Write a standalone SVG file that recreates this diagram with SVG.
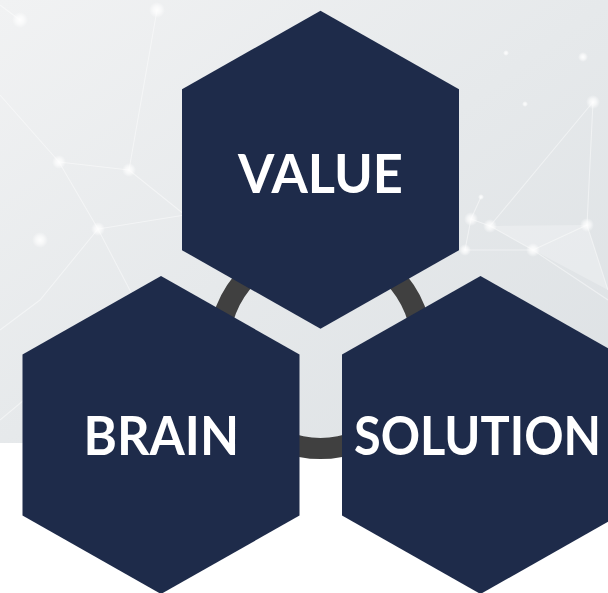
<svg xmlns="http://www.w3.org/2000/svg" width="608" height="593" viewBox="0 0 608 593">
  <defs>
    <linearGradient id="bg" x1="0" y1="0" x2="1" y2="1">
      <stop offset="0" stop-color="#f1f2f3"/>
      <stop offset="0.5" stop-color="#e6e9eb"/>
      <stop offset="1" stop-color="#dde1e4"/>
    </linearGradient>
    <radialGradient id="dot">
      <stop offset="0" stop-color="#ffffff" stop-opacity="0.95"/>
      <stop offset="0.5" stop-color="#ffffff" stop-opacity="0.6"/>
      <stop offset="1" stop-color="#ffffff" stop-opacity="0"/>
    </radialGradient>
    <style>
      .hex { fill: #1e2b4a; }
      .lbl { fill: #ffffff; font-family: Lato, "Liberation Sans", sans-serif; font-weight: 700; font-size: 53px; }
      .net { stroke: #ffffff; stroke-opacity: 0.45; stroke-width: 1.1; fill: none; }
      .ring { fill: none; stroke: #404040; stroke-width: 21; }
    </style>
  </defs>

  <rect x="0" y="0" width="608" height="593" fill="#ffffff"/>
  <rect x="0" y="0" width="608" height="443" fill="url(#bg)"/>

  <g id="network">
    <path class="net" d="M0 95 L59 162 L98 229 L135 300 M59 162 L129 170 L185 215 M98 229 L185 215 M98 229 L40 300 L0 330 M0 420 L60 370 M20 20 L0 5 M157 10 L129 170"/>
    <path class="net" d="M593 102 L587 225 L608 290 M593 102 L490 226 M471 219 L490 226 L533 250 L608 300 M533 250 L587 225 M465 250 L471 219 L481 197 M465 250 L533 250"/>
    <polygon points="490,226 587,225 608,290 533,250" fill="#ffffff" fill-opacity="0.25"/>
    <g fill="url(#dot)">
      <circle cx="20" cy="20" r="8"/>
      <circle cx="157" cy="10" r="8"/>
      <circle cx="59" cy="162" r="7"/>
      <circle cx="129" cy="170" r="7"/>
      <circle cx="98" cy="229" r="7"/>
      <circle cx="40" cy="240" r="8"/>
      <circle cx="593" cy="102" r="7"/>
      <circle cx="587" cy="225" r="7"/>
      <circle cx="533" cy="250" r="7"/>
      <circle cx="490" cy="226" r="7"/>
      <circle cx="471" cy="219" r="7"/>
      <circle cx="465" cy="250" r="6"/>
      <circle cx="506" cy="53" r="3"/>
      <circle cx="525" cy="104" r="3"/>
      <circle cx="481" cy="197" r="3"/>
      <circle cx="583" cy="57" r="5"/>
    </g>
  </g>

  <g id="connectors">
    <circle class="ring" cx="320.5" cy="347" r="101.5"/>
  </g>

  <g id="value">
    <polygon class="hex" points="320.5,10.7 459,89.2 459,250.2 320.5,328.7 182,250.2 182,89.2"/>
    <text class="lbl" x="238" y="192.7" textLength="165" lengthAdjust="spacingAndGlyphs">VALUE</text>
  </g>
  <g id="brain">
    <polygon class="hex" points="161,276 299.5,354.5 299.5,515.5 161,594 22.5,515.5 22.5,354.5"/>
    <text class="lbl" x="83.5" y="455" textLength="155.5" lengthAdjust="spacingAndGlyphs">BRAIN</text>
  </g>
  <g id="solution">
    <polygon class="hex" points="480.5,276 619,354.5 619,515.5 480.5,594 342,515.5 342,354.5"/>
    <text class="lbl" x="354" y="455" textLength="247" lengthAdjust="spacingAndGlyphs">SOLUTION</text>
  </g>
</svg>
